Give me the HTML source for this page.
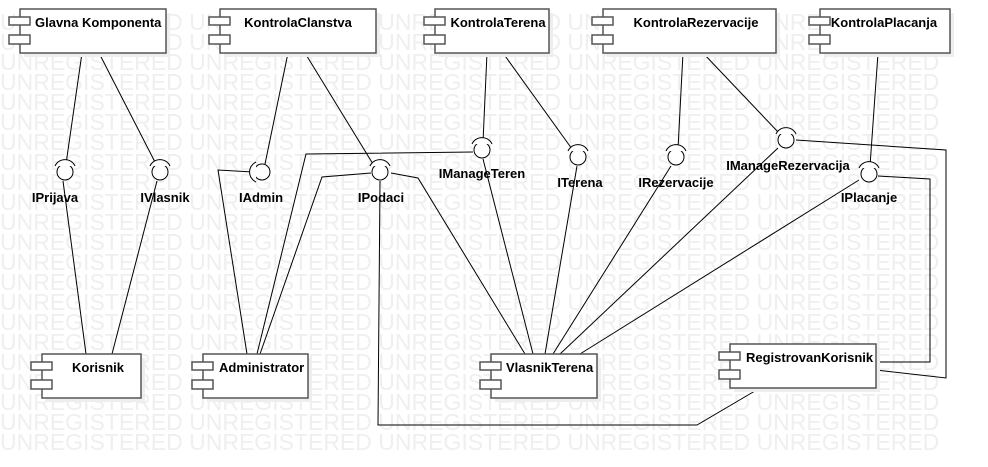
<!DOCTYPE html>
<html><head><meta charset="utf-8"><style>
html,body{margin:0;padding:0;background:#fff;}
svg{display:block;}
.wm{font-family:"Liberation Sans",sans-serif;font-size:23px;fill:#efefef;}
.t{font-family:"Liberation Sans",sans-serif;font-size:13px;font-weight:bold;fill:#000;}
.l{font-family:"Liberation Sans",sans-serif;font-size:13px;font-weight:bold;fill:#000;text-anchor:middle;}
</style></head><body>
<svg width="988" height="467" viewBox="0 0 988 467" xmlns="http://www.w3.org/2000/svg">
<g class="wm">
<text x="0" y="30">UNREGISTERED UNREGISTERED UNREGISTERED UNREGISTERED UNREGISTERED</text>
<text x="0" y="50">UNREGISTERED UNREGISTERED UNREGISTERED UNREGISTERED UNREGISTERED</text>
<text x="0" y="70">UNREGISTERED UNREGISTERED UNREGISTERED UNREGISTERED UNREGISTERED</text>
<text x="0" y="90">UNREGISTERED UNREGISTERED UNREGISTERED UNREGISTERED UNREGISTERED</text>
<text x="0" y="110">UNREGISTERED UNREGISTERED UNREGISTERED UNREGISTERED UNREGISTERED</text>
<text x="0" y="130">UNREGISTERED UNREGISTERED UNREGISTERED UNREGISTERED UNREGISTERED</text>
<text x="0" y="150">UNREGISTERED UNREGISTERED UNREGISTERED UNREGISTERED UNREGISTERED</text>
<text x="0" y="170">UNREGISTERED UNREGISTERED UNREGISTERED UNREGISTERED UNREGISTERED</text>
<text x="0" y="190">UNREGISTERED UNREGISTERED UNREGISTERED UNREGISTERED UNREGISTERED</text>
<text x="0" y="210">UNREGISTERED UNREGISTERED UNREGISTERED UNREGISTERED UNREGISTERED</text>
<text x="0" y="230">UNREGISTERED UNREGISTERED UNREGISTERED UNREGISTERED UNREGISTERED</text>
<text x="0" y="250">UNREGISTERED UNREGISTERED UNREGISTERED UNREGISTERED UNREGISTERED</text>
<text x="0" y="270">UNREGISTERED UNREGISTERED UNREGISTERED UNREGISTERED UNREGISTERED</text>
<text x="0" y="290">UNREGISTERED UNREGISTERED UNREGISTERED UNREGISTERED UNREGISTERED</text>
<text x="0" y="310">UNREGISTERED UNREGISTERED UNREGISTERED UNREGISTERED UNREGISTERED</text>
<text x="0" y="330">UNREGISTERED UNREGISTERED UNREGISTERED UNREGISTERED UNREGISTERED</text>
<text x="0" y="350">UNREGISTERED UNREGISTERED UNREGISTERED UNREGISTERED UNREGISTERED</text>
<text x="0" y="370">UNREGISTERED UNREGISTERED UNREGISTERED UNREGISTERED UNREGISTERED</text>
<text x="0" y="390">UNREGISTERED UNREGISTERED UNREGISTERED UNREGISTERED UNREGISTERED</text>
<text x="0" y="410">UNREGISTERED UNREGISTERED UNREGISTERED UNREGISTERED UNREGISTERED</text>
<text x="0" y="430">UNREGISTERED UNREGISTERED UNREGISTERED UNREGISTERED UNREGISTERED</text>
<text x="0" y="450">UNREGISTERED UNREGISTERED UNREGISTERED UNREGISTERED UNREGISTERED</text>
</g>
<g fill="none" stroke="#000" stroke-width="1">
<line x1="82" y1="53" x2="66" y2="164"/><line x1="63" y1="181" x2="86" y2="354"/>
<line x1="99" y1="53" x2="156" y2="164"/><line x1="157" y1="181" x2="112" y2="354"/>
<line x1="288" y1="53" x2="265" y2="164"/>
<polyline points="253,172 218,170 247,354"/>
<line x1="305" y1="53" x2="373" y2="164"/>
<polyline points="473,152 306,154 257,354"/>
<polyline points="371,173 322,177 260,354"/>
<polyline points="391,173 418,178 525,354"/>
<polyline points="380,181 378,425 697,425 760,388"/>
<line x1="487" y1="53" x2="483" y2="142"/><line x1="483" y1="159" x2="533" y2="354"/>
<line x1="503" y1="53" x2="572" y2="149"/><line x1="577" y1="166" x2="545" y2="354"/>
<line x1="683" y1="53" x2="678" y2="149"/><line x1="671" y1="166" x2="553" y2="354"/>
<line x1="703" y1="53" x2="779" y2="133"/><line x1="778" y1="148" x2="560" y2="354"/>
<line x1="878" y1="53" x2="870" y2="166"/><line x1="859" y1="180" x2="580" y2="354"/>
<polyline points="796,140 946,150 946,378 876,370"/>
<polyline points="878,176 930,179 930,362 876,362"/>
</g>
<g fill="#fff" stroke="#000" stroke-width="1">
<circle cx="65" cy="172" r="8"/><path d="M55,166 A11,11 0 0 1 75,166"/>
<circle cx="160" cy="172" r="8"/><path d="M150,166 A11,11 0 0 1 170,166"/>
<circle cx="262" cy="172" r="8"/><path d="M256,162 A11,11 0 0 0 256,182"/>
<circle cx="380" cy="172" r="8"/><path d="M370,166 A11,11 0 0 1 390,166"/>
<circle cx="482" cy="150" r="8"/><path d="M472,144 A11,11 0 0 1 492,144"/>
<circle cx="578" cy="157" r="8"/><path d="M568,151 A11,11 0 0 1 588,151"/>
<circle cx="676" cy="157" r="8"/><path d="M666,151 A11,11 0 0 1 686,151"/>
<circle cx="786" cy="140" r="8"/><path d="M776,134 A11,11 0 0 1 796,134"/>
<circle cx="869" cy="174" r="8"/><path d="M859,168 A11,11 0 0 1 879,168"/>
</g>
<g>
<text class="l" x="55" y="202">IPrijava</text>
<text class="l" x="165" y="202">IVlasnik</text>
<text class="l" x="261" y="202">IAdmin</text>
<text class="l" x="381" y="202">IPodaci</text>
<text class="l" x="482" y="178">IManageTeren</text>
<text class="l" x="580" y="187">ITerena</text>
<text class="l" x="676" y="187">IRezervacije</text>
<text class="l" x="788" y="170">IManageRezervacija</text>
<text class="l" x="869" y="202">IPlacanje</text>
</g>
<g stroke="#555" stroke-width="1.5">
<rect x="24" y="13" width="146" height="44" fill="#eee" stroke="none"/>
<rect x="20" y="9" width="146" height="44" fill="#fff"/>
<rect x="9" y="17" width="21" height="8" fill="#fff"/><rect x="9" y="35" width="21" height="9" fill="#fff"/>

<rect x="224" y="13" width="156" height="44" fill="#eee" stroke="none"/>
<rect x="220" y="9" width="156" height="44" fill="#fff"/>
<rect x="209" y="17" width="21" height="8" fill="#fff"/><rect x="209" y="35" width="21" height="9" fill="#fff"/>

<rect x="439" y="13" width="114" height="44" fill="#eee" stroke="none"/>
<rect x="435" y="9" width="114" height="44" fill="#fff"/>
<rect x="424" y="17" width="21" height="8" fill="#fff"/><rect x="424" y="35" width="21" height="9" fill="#fff"/>

<rect x="607" y="13" width="173" height="44" fill="#eee" stroke="none"/>
<rect x="603" y="9" width="173" height="44" fill="#fff"/>
<rect x="592" y="17" width="21" height="8" fill="#fff"/><rect x="592" y="35" width="21" height="9" fill="#fff"/>

<rect x="824" y="13" width="130" height="44" fill="#eee" stroke="none"/>
<rect x="820" y="9" width="130" height="44" fill="#fff"/>
<rect x="809" y="17" width="21" height="8" fill="#fff"/><rect x="809" y="35" width="21" height="9" fill="#fff"/>

<rect x="46" y="358" width="99" height="44" fill="#eee" stroke="none"/>
<rect x="42" y="354" width="99" height="44" fill="#fff"/>
<rect x="31" y="362" width="21" height="8" fill="#fff"/><rect x="31" y="380" width="21" height="9" fill="#fff"/>

<rect x="207" y="358" width="105" height="44" fill="#eee" stroke="none"/>
<rect x="203" y="354" width="105" height="44" fill="#fff"/>
<rect x="192" y="362" width="21" height="8" fill="#fff"/><rect x="192" y="380" width="21" height="9" fill="#fff"/>

<rect x="495" y="358" width="106" height="44" fill="#eee" stroke="none"/>
<rect x="491" y="354" width="106" height="44" fill="#fff"/>
<rect x="480" y="362" width="21" height="8" fill="#fff"/><rect x="480" y="380" width="21" height="9" fill="#fff"/>

<rect x="734" y="348" width="146" height="44" fill="#eee" stroke="none"/>
<rect x="730" y="344" width="146" height="44" fill="#fff"/>
<rect x="719" y="352" width="21" height="8" fill="#fff"/><rect x="719" y="370" width="21" height="9" fill="#fff"/>
</g>
<g>
<text class="t" x="35" y="27">Glavna Komponenta</text>
<text class="l" x="298" y="27">KontrolaClanstva</text>
<text class="l" x="498" y="27">KontrolaTerena</text>
<text class="l" x="696" y="27">KontrolaRezervacije</text>
<text class="l" x="884" y="27">KontrolaPlacanja</text>
<text class="l" x="98" y="372">Korisnik</text>
<text class="t" x="219" y="372">Administrator</text>
<text class="t" x="506" y="372">VlasnikTerena</text>
<text class="t" x="746" y="362">RegistrovanKorisnik</text>
</g>
</svg>
</body></html>
